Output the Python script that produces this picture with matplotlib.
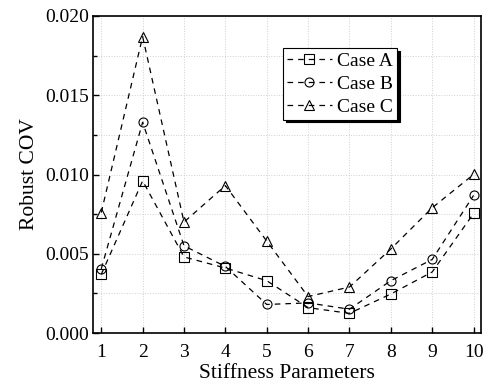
import numpy as np
import matplotlib
matplotlib.use('Agg')
import matplotlib.pyplot as plt
from matplotlib.ticker import MultipleLocator

plt.rcParams['font.family'] = 'Liberation Serif'
plt.rcParams['mathtext.fontset'] = 'stix'

# Data
params = np.arange(1, 11)
case_a = [0.0037, 0.0096, 0.0048, 0.0041, 0.0033, 0.0016, 0.00124, 0.00246, 0.00385, 0.00754]
case_b = [0.00405, 0.0133, 0.0055, 0.0042, 0.0018, 0.0019, 0.0015, 0.0033, 0.00464, 0.00868]
case_c = [0.0076, 0.0187, 0.0070, 0.0093, 0.0058, 0.0023, 0.0029, 0.0053, 0.0079, 0.0100]
labels = ['Case A', 'Case B', 'Case C']
markers = ['s', 'o', '^']

fig = plt.figure(figsize=(4.87, 3.85), dpi=100)
ax = fig.add_axes([93 / 487, 1 - 333 / 385, (481 - 93) / 487, (333 - 16) / 385])

for vals, lab, mk in zip([case_a, case_b, case_c], labels, markers):
    ax.plot(params, vals, ls=(0, (4.5, 4)), color='black', lw=0.9, marker=mk,
            markersize=6.5, markerfacecolor='none', markeredgecolor='black',
            markeredgewidth=0.8, label=lab)

ax.set_xlim(0.8, 10.18)
ax.set_ylim(0, 0.020)
ax.set_xticks(params)
ax.yaxis.set_major_locator(MultipleLocator(0.005))
ax.yaxis.set_minor_locator(MultipleLocator(0.0025))
ax.yaxis.set_major_formatter(matplotlib.ticker.FormatStrFormatter('%.3f'))
ax.grid(True, which='both', color='#cfcfcf', ls=':', lw=0.7)
ax.set_axisbelow(True)
ax.tick_params(direction='in', labelsize=14, length=4, width=1, pad=3)
ax.tick_params(axis='x', pad=8)
ax.tick_params(which='minor', direction='in', length=3, width=1)
ax.tick_params(axis='x', which='minor', bottom=False)
for s in ax.spines.values():
    s.set_linewidth(1.2)

ax.set_xlabel('Stiffness Parameters', fontsize=15.5, labelpad=2)
ax.set_ylabel('Robust COV', fontsize=15.5, labelpad=4)

leg = ax.legend(loc='upper left', bbox_to_anchor=(283 / 487, 1 - 48 / 385),
                bbox_transform=fig.transFigure, fontsize=14, frameon=True,
                fancybox=False, shadow={'color': 'black', 'alpha': 1},
                edgecolor='black', framealpha=1, borderpad=0.2,
                handlelength=2.3, handletextpad=0.3, labelspacing=0.28,
                borderaxespad=0)
leg.get_frame().set_linewidth(0.8)

fig.savefig('out.png', dpi=100)
